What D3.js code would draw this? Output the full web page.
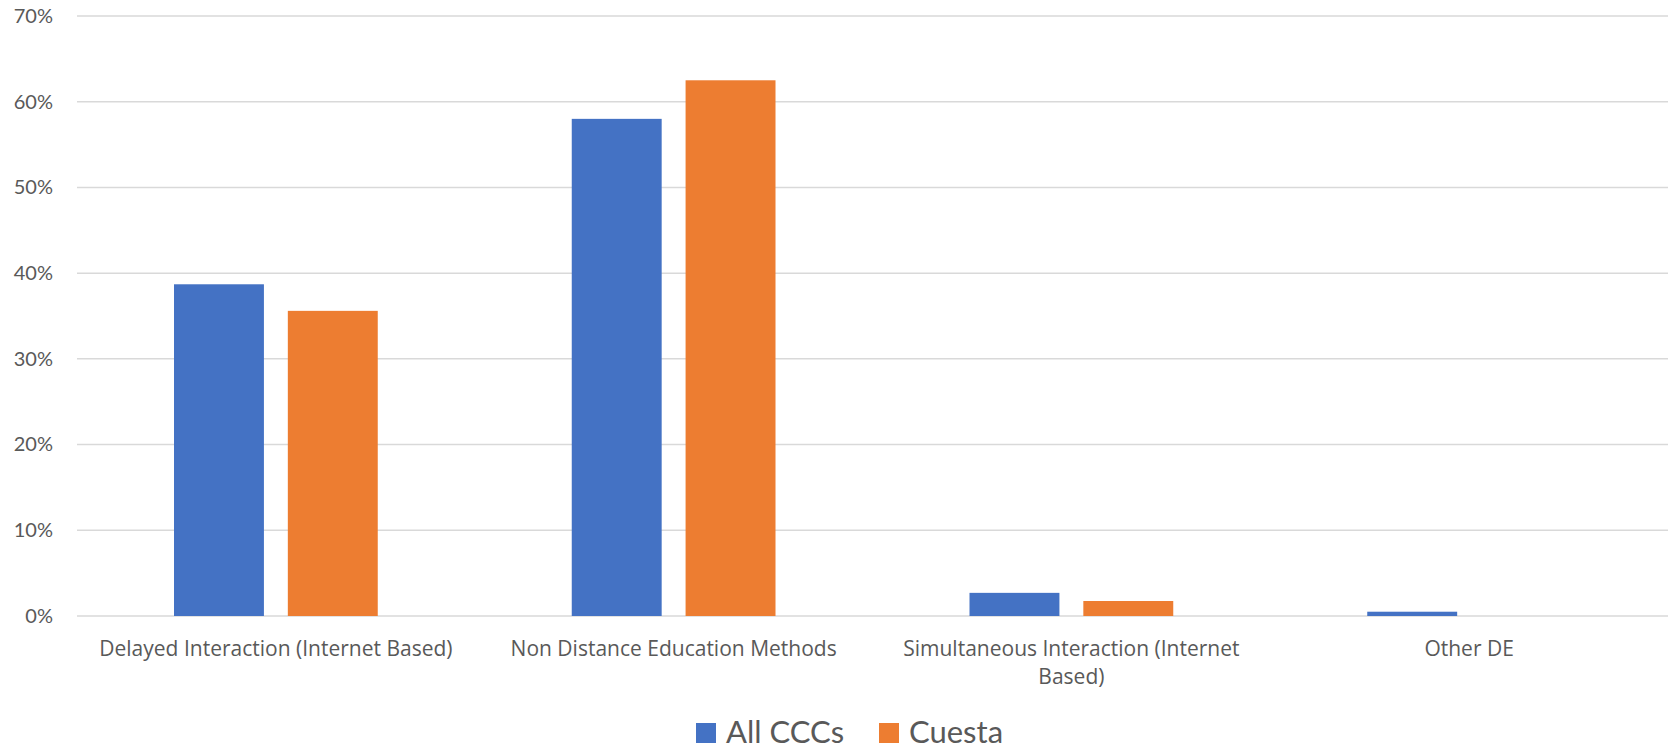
<!DOCTYPE html>
<html>
<head>
<meta charset="utf-8">
<script src="https://cdn.jsdelivr.net/npm/d3@7"></script>
<style>
  body { margin: 0; background: #fff; }
  svg text { font-family: Lato, "Open Sans", sans-serif; fill: #595959; }
</style>
</head>
<body>
<div id="chart"></div>
<script>
const categories = ["Delayed Interaction (Internet Based)",
    "Non Distance Education Methods",
    "Simultaneous Interaction (Internet Based)",
    "Other DE"];
const seriesNames = ["All CCCs", "Cuesta"];
const allCCCs = [0.387, 0.580, 0.027, 0.005];
const cuesta = [0.356, 0.625, 0.0175, 0];
const yTicks = [0, 0.1, 0.2, 0.3, 0.4, 0.5, 0.6, 0.7];
const colors = ["#4472C4", "#ED7D31"];

const width = 1672, height = 752;
const margin = {left: 77, right: 4, top: 16, bottom: 136};

const svg = d3.select("#chart").append("svg")
    .attr("width", width)
    .attr("height", height);

const y = d3.scaleLinear()
    .domain([0, 0.7])
    .range([height - margin.bottom, margin.top]);

const x0 = d3.scaleBand()
    .domain(categories)
    .range([margin.left, width - margin.right]);

// bars sit in the middle of each category, like excel's gap width
const groupPad = 97;
const x1 = d3.scaleBand()
    .domain(seriesNames)
    .range([groupPad, x0.bandwidth() - groupPad])
    .paddingInner(0.21);

// gridlines
svg.append("g")
    .selectAll("line")
    .data(yTicks)
    .enter()
    .append("line")
    .attr("x1", margin.left)
    .attr("x2", width - margin.right)
    .attr("y1", d => y(d))
    .attr("y2", d => y(d))
    .attr("stroke", "#D9D9D9")
    .attr("stroke-width", 1.5);

// y axis labels
const yAxis = svg.append("g")
    .attr("transform", `translate(${margin.left},0)`)
    .call(d3.axisLeft(y).tickValues(yTicks).tickFormat(d3.format(".0%")).tickSize(0).tickPadding(24));
yAxis.select(".domain").remove();
yAxis.selectAll("text")
    .style("font-size", "20px")
    .attr("fill", "#595959");

const rows = categories.map((c, i) => ({cat: c, vals: [allCCCs[i], cuesta[i]]}));

const groups = svg.append("g")
    .selectAll("g")
    .data(rows)
    .enter()
    .append("g")
    .attr("transform", d => `translate(${x0(d.cat)},0)`);

groups.selectAll("rect")
    .data(d => d.vals.map((v, j) => ({name: seriesNames[j], value: v})))
    .enter()
    .append("rect")
    .attr("x", d => x1(d.name))
    .attr("width", x1.bandwidth())
    .attr("y", d => y(d.value))
    .attr("height", d => y(0) - y(d.value))
    .attr("fill", (d, j) => colors[j]);

// x labels, wrapped to the band width
const xAxis = svg.append("g")
    .attr("transform", `translate(0,${y(0)})`)
    .call(d3.axisBottom(x0).tickSize(0).tickPadding(25));
xAxis.select(".domain").remove();
xAxis.selectAll("text")
    .style("font-size", "21px")
    .style("font-family", "'Open Sans', sans-serif")
    .attr("fill", "#595959")
    .call(wrap, 380);

function wrap(texts, maxW) {
    texts.each(function() {
        const text = d3.select(this);
        const words = text.text().split(/\s+/);
        const yAttr = text.attr("y");
        const dy = parseFloat(text.attr("dy"));
        text.text(null);
        let line = [];
        let lineNo = 0;
        let tspan = text.append("tspan").attr("x", 0).attr("y", yAttr).attr("dy", dy + "em");
        for (const w of words) {
            line.push(w);
            tspan.text(line.join(" "));
            if (tspan.node().getComputedTextLength() > maxW && line.length > 1) {
                line.pop();
                tspan.text(line.join(" "));
                line = [w];
                lineNo++;
                tspan = text.append("tspan").attr("x", 0).attr("y", yAttr)
                    .attr("dy", (dy + lineNo * 1.35) + "em").text(w);
            }
        }
    });
}

// legend
const legend = svg.append("g")
    .attr("transform", "translate(696,723)");
const legendX = [0, 183];
seriesNames.forEach((name, i) => {
    const g = legend.append("g").attr("transform", `translate(${legendX[i]},0)`);
    g.append("rect")
        .attr("width", 20)
        .attr("height", 20)
        .attr("fill", colors[i]);
    g.append("text")
        .attr("x", 30)
        .attr("y", 20)
        .style("font-size", "31px")
        .text(name);
});
</script>
</body>
</html>
